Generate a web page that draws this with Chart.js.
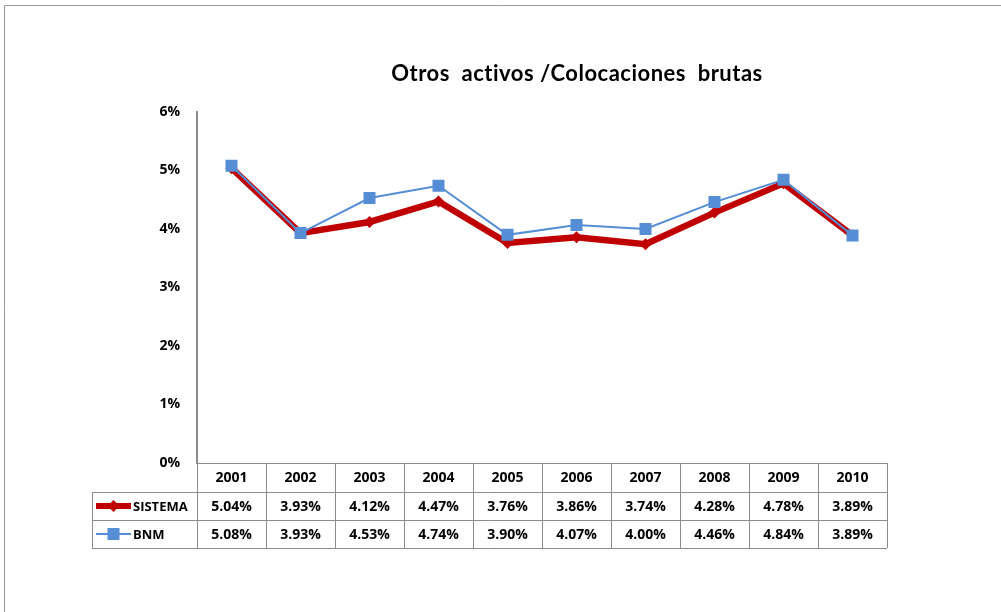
<!DOCTYPE html>
<html>
<head>
<meta charset="utf-8">
<script src="https://cdn.jsdelivr.net/npm/chart.js@4.4.1/dist/chart.umd.min.js"></script>
<style>
  html, body { margin: 0; padding: 0; background: #fff; }
  #wrap { width: 1001px; height: 612px; position: relative; }
</style>
</head>
<body>
<div id="wrap"><canvas id="ratioChart" width="1001" height="612"></canvas></div>
<script>
// years on the x axis
const years = ['2001', '2002', '2003', '2004', '2005', '2006', '2007', '2008', '2009', '2010'];
// otros activos / colocaciones brutas, in percent
const sistema = [5.04, 3.93, 4.12, 4.47, 3.76, 3.86, 3.74, 4.28, 4.78, 3.89];
const bnm = [5.08, 3.93, 4.53, 4.74, 3.90, 4.07, 4.00, 4.46, 4.84, 3.89];
const yTicks = [0, 1, 2, 3, 4, 5, 6];

const RED = '#C00000';
const BLUE = '#558ED5';
const GRID = '#8c8c8c';
const FONT = '"Open Sans", Lato, sans-serif';

// Title, outer frame and the data table under the plot
const tablePlugin = {
    id: 'dataTable',
    afterDraw(chart) {
        const ctx = chart.ctx;
        const x = chart.scales.x;
        const area = chart.chartArea;
        const half = (area.right - area.left) / years.length / 2;
        const rowTop = area.bottom;
        const rowH = [29, 28, 28];
        const y1 = rowTop + rowH[0];
        const y2 = y1 + rowH[1];
        const y3 = y2 + rowH[2];
        const legendLeft = 92;

        ctx.save();

        // outer frame
        ctx.strokeStyle = '#9a9a9a';
        ctx.lineWidth = 1;
        ctx.beginPath();
        ctx.moveTo(4.5, 612);
        ctx.lineTo(4.5, 5.5);
        ctx.lineTo(1001, 5.5);
        ctx.stroke();

        // title
        ctx.fillStyle = '#000';
        ctx.font = 'bold 22px Lato, sans-serif';
        ctx.letterSpacing = '0.5px';
        ctx.textAlign = 'center';
        ctx.textBaseline = 'middle';
        ctx.fillText('Otros  activos /Colocaciones  brutas', 577, 74);
        ctx.letterSpacing = '0px';

        // table grid
        ctx.strokeStyle = GRID;
        ctx.lineWidth = 1;
        ctx.beginPath();
        ctx.moveTo(area.left, rowTop + 0.5);
        ctx.lineTo(area.right, rowTop + 0.5);
        [y1, y2, y3].forEach(function (yy) {
            ctx.moveTo(legendLeft, yy + 0.5);
            ctx.lineTo(area.right, yy + 0.5);
        });
        ctx.moveTo(legendLeft + 0.5, y1);
        ctx.lineTo(legendLeft + 0.5, y3);
        for (let i = 0; i <= years.length; i++) {
            const edge = Math.round(x.getPixelForValue(i) - half) + 0.5;
            ctx.moveTo(edge, rowTop);
            ctx.lineTo(edge, y3);
        }
        ctx.stroke();

        // header and values
        ctx.fillStyle = '#000';
        ctx.font = 'bold 14px ' + FONT;
        ctx.textAlign = 'center';
        years.forEach(function (yr, i) {
            const cx = x.getPixelForValue(i);
            ctx.fillText(yr, cx, (rowTop + y1) / 2 + 1);
            ctx.fillText(sistema[i].toFixed(2) + '%', cx, (y1 + y2) / 2 + 1);
            ctx.fillText(bnm[i].toFixed(2) + '%', cx, (y2 + y3) / 2 + 1);
        });

        // legend keys inside the table
        const keys = [
            { label: 'SISTEMA', color: RED, width: 6, y: (y1 + y2) / 2, style: 'rectRot', r: 6 },
            { label: 'BNM', color: BLUE, width: 2, y: (y2 + y3) / 2, style: 'rect', r: 8.5 }
        ];
        keys.forEach(function (k) {
            ctx.strokeStyle = k.color;
            ctx.lineWidth = k.width;
            ctx.beginPath();
            ctx.moveTo(96, k.y);
            ctx.lineTo(131, k.y);
            ctx.stroke();
            ctx.fillStyle = k.color;
            Chart.helpers.drawPoint(ctx, { pointStyle: k.style, radius: k.r, borderWidth: 0 }, 113.5, k.y);
            ctx.fillStyle = '#000';
            ctx.textAlign = 'left';
            ctx.font = 'bold 13px ' + FONT;
            ctx.fillText(k.label, 133, k.y + 1);
        });

        ctx.restore();
    }
};

new Chart(document.getElementById('ratioChart').getContext('2d'), {
    type: 'line',
    data: {
        labels: years,
        datasets: [
            {
                label: 'SISTEMA',
                data: sistema,
                borderColor: RED,
                backgroundColor: RED,
                borderWidth: 6.5,
                pointStyle: 'rectRot',
                pointRadius: 6,
                pointBorderWidth: 0,
                tension: 0,
                order: 1
            },
            {
                label: 'BNM',
                data: bnm,
                borderColor: BLUE,
                backgroundColor: BLUE,
                borderWidth: 2,
                pointStyle: 'rect',
                pointRadius: 8.5,
                pointBorderWidth: 0,
                tension: 0,
                order: 0
            }
        ]
    },
    options: {
        responsive: false,
        animation: false,
        layout: { padding: { left: 0, top: 112, right: 114, bottom: 149 } },
        plugins: {
            legend: { display: false },
            title: { display: false },
            tooltip: { enabled: false }
        },
        scales: {
            x: {
                type: 'category',
                display: false,
                offset: true
            },
            y: {
                min: 0,
                max: 6,
                afterFit(scale) { scale.width = 197; },
                afterBuildTicks(scale) { scale.ticks = yTicks.map(v => ({ value: v })); },
                grid: { display: false },
                border: { display: true, color: GRID, width: 2 },
                ticks: {
                    padding: 9,
                    color: '#000',
                    font: { family: FONT, size: 14, weight: 'bold' },
                    callback: v => v + '%'
                }
            }
        }
    },
    plugins: [tablePlugin]
});
</script>
</body>
</html>
